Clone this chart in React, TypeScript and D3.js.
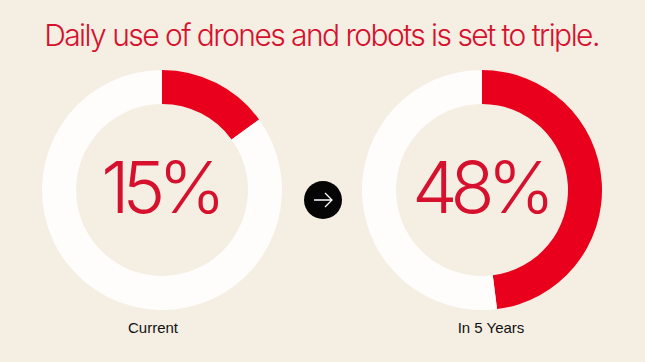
import React from "react";
import * as d3 from "d3";

const labels = ["Current", "In 5 Years"];
const shares = [15, 48];
const title = "Daily use of drones and robots is set to triple.";

const W = 645;
const H = 362;
// caption nudges, the captions are not centred exactly under the rings
const captionShift = [-9, 9];

export default function App() {
  const x = d3.scalePoint<string>().domain(labels).range([162, 482]);
  const arcGen = d3.arc<any>().innerRadius(86).outerRadius(120);
  const pieGen = d3.pie<number>().sort(null);

  return (
    <svg
      width={W}
      height={H}
      style={{ position: "absolute", left: 0, top: 0, background: "#f5eee3" }}
    >
      <rect width={W} height={H} fill="#f5eee3" />
      <text
        x={W / 2 - 1}
        y={46}
        textAnchor="middle"
        fill="#d6112e"
        fontFamily="Inter"
        fontWeight={300}
        fontSize={30}
        letterSpacing={-1.55}
      >
        {title}
      </text>
      {labels.map((lab, i) => {
        const slices = pieGen([shares[i], 100 - shares[i]]);
        const cx = x(lab)!;
        return (
          <g key={lab} transform={`translate(${cx},190)`}>
            {slices.map((s, j) => (
              <path key={j} d={arcGen(s)!} fill={j === 0 ? "#e8001c" : "#fefdfb"} />
            ))}
            <text
              x={-2}
              y={23}
              textAnchor="middle"
              fill="#d6112e"
              fontFamily="Inter"
              fontWeight={300}
              fontSize={72}
              letterSpacing={-7}
            >
              {shares[i]}%
            </text>
            <text
              x={captionShift[i]}
              y={143}
              textAnchor="middle"
              fill="#111"
              fontFamily="Liberation Sans"
              fontSize={15}
            >
              {lab}
            </text>
          </g>
        );
      })}
      <g transform="translate(323,200)">
        <circle r={19} fill="#050505" />
        <path d="M-9,0 H9 M2,-7 L9,0 L2,7" stroke="#fff" strokeWidth={1.3} fill="none" />
      </g>
    </svg>
  );
}
